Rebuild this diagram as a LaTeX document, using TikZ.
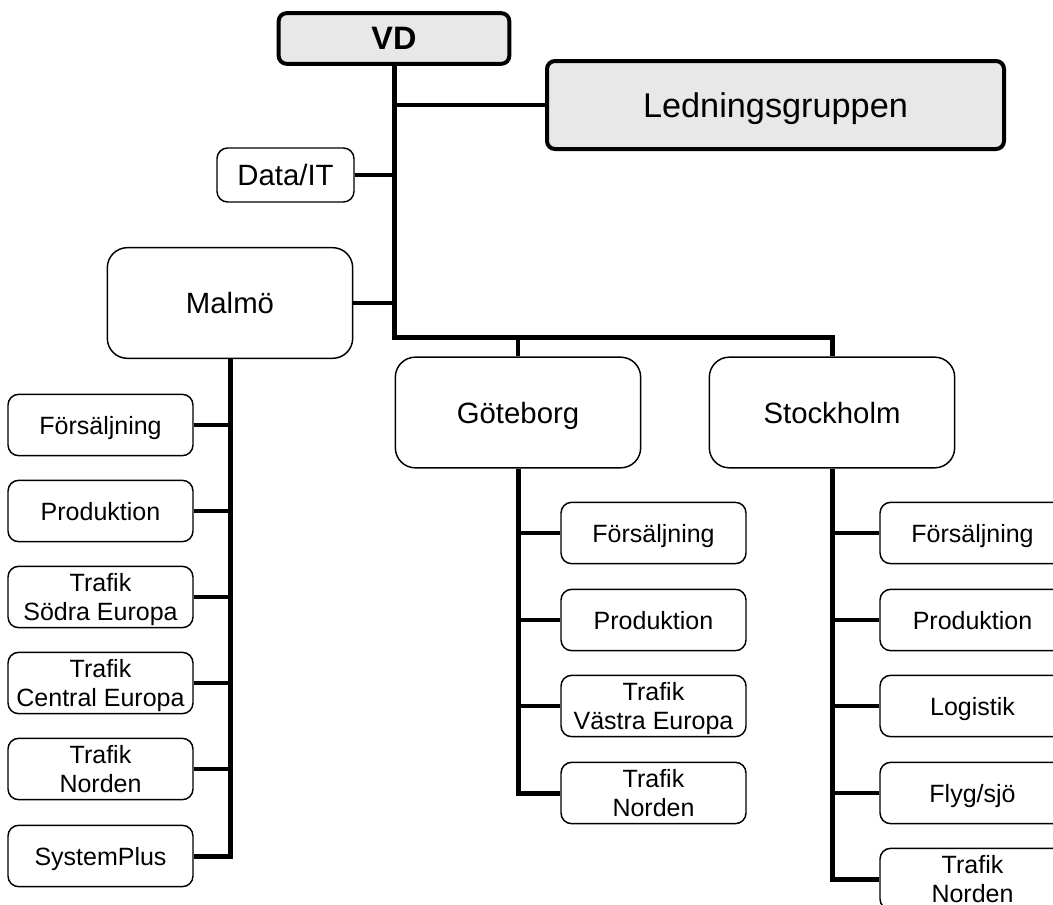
\documentclass[tikz,border=0pt]{standalone}
\usepackage{fontspec}
\setmainfont{Liberation Sans}
\definecolor{headfill}{HTML}{E8E8E8}
\begin{document}
\begin{tikzpicture}[x=0.75pt,y=-0.75pt,line join=miter,
  head/.style={draw=black,line width=3pt,fill=headfill,rounded corners=6pt,inner sep=0pt,text depth=0pt},
  city/.style={draw=black,line width=1.1pt,fill=white,rounded corners=15pt,inner sep=0pt,text depth=0pt,
    minimum width=184pt,minimum height=83pt,font=\fontsize{22}{26}\selectfont},
  unit/.style={draw=black,line width=1.1pt,fill=white,rounded corners=8pt,inner sep=0pt,text depth=0pt,
    minimum width=138.75pt,minimum height=46pt,align=center,font=\fontsize{18.75}{21.6}\selectfont},
  trunk/.style={line width=3.75pt},
  stub/.style={line width=3.2pt},
  branch/.style={line width=3.4pt}]
\useasboundingbox (0,0) rectangle (1053,904);
\clip (0,0) rectangle (1053,904);

% top level
\node[head,minimum width=173pt,minimum height=38pt,font=\bfseries\fontsize{24.3}{28}\selectfont] (vd) at (394,38.5) {VD};
\node[head,minimum width=342.75pt,minimum height=66pt,font=\fontsize{25.7}{30}\selectfont] (lg) at (775.5,105) {Ledningsgruppen};
\node[unit,minimum width=102.75pt,minimum height=40.5pt,font=\fontsize{22}{26}\selectfont] (dit) at (285.5,175) {Data/IT};

% regions
\node[city] (malmo) at (230,303) {Malmö};
\node[city] (gbg) at (518,412.5) {Göteborg};
\node[city] (sth) at (832,412.5) {Stockholm};

% Malmö units
\node[unit] (m1) at (100.5,425) {Försäljning};
\node[unit] (m2) at (100.5,511) {Produktion};
\node[unit] (m3) at (100.5,597) {Trafik\\Södra Europa};
\node[unit] (m4) at (100.5,683) {Trafik\\Central Europa};
\node[unit] (m5) at (100.5,769) {Trafik\\Norden};
\node[unit] (m6) at (100.5,856) {SystemPlus};

% Göteborg units
\node[unit] (g1) at (653.5,533) {Försäljning};
\node[unit] (g2) at (653.5,620) {Produktion};
\node[unit] (g3) at (653.5,706) {Trafik\\Västra Europa};
\node[unit] (g4) at (653.5,793) {Trafik\\Norden};

% Stockholm units
\node[unit] (s1) at (972.5,533) {Försäljning};
\node[unit] (s2) at (972.5,620) {Produktion};
\node[unit] (s3) at (972.5,706) {Logistik};
\node[unit] (s4) at (972.5,793) {Flyg/sjö};
\node[unit] (s5) at (972.5,879) {Trafik\\Norden};

% main spine
\coordinate (bus) at (394,337);
\draw[trunk] (vd.south) -- (bus) -| (sth.north);
\draw[stub] (gbg.north) -- (gbg.north |- bus);
\draw[branch] (lg.west) -- (lg.west -| vd.south);
\draw[branch] (dit.east) -- (dit.east -| vd.south);
\draw[branch] (malmo.east) -- (malmo.east -| vd.south);

% Malmö tree
\draw[trunk] (malmo.south) |- (m6.east);
\foreach \n in {m1,m2,m3,m4,m5}
  \draw[branch] (\n.east) -- (\n.east -| malmo.south);

% Göteborg tree
\draw[trunk] (gbg.south) |- (g4.west);
\foreach \n in {g1,g2,g3}
  \draw[branch] (\n.west) -- (\n.west -| gbg.south);

% Stockholm tree
\draw[trunk] (sth.south) |- (s5.west);
\foreach \n in {s1,s2,s3,s4}
  \draw[branch] (\n.west) -- (\n.west -| sth.south);
\end{tikzpicture}
\end{document}
